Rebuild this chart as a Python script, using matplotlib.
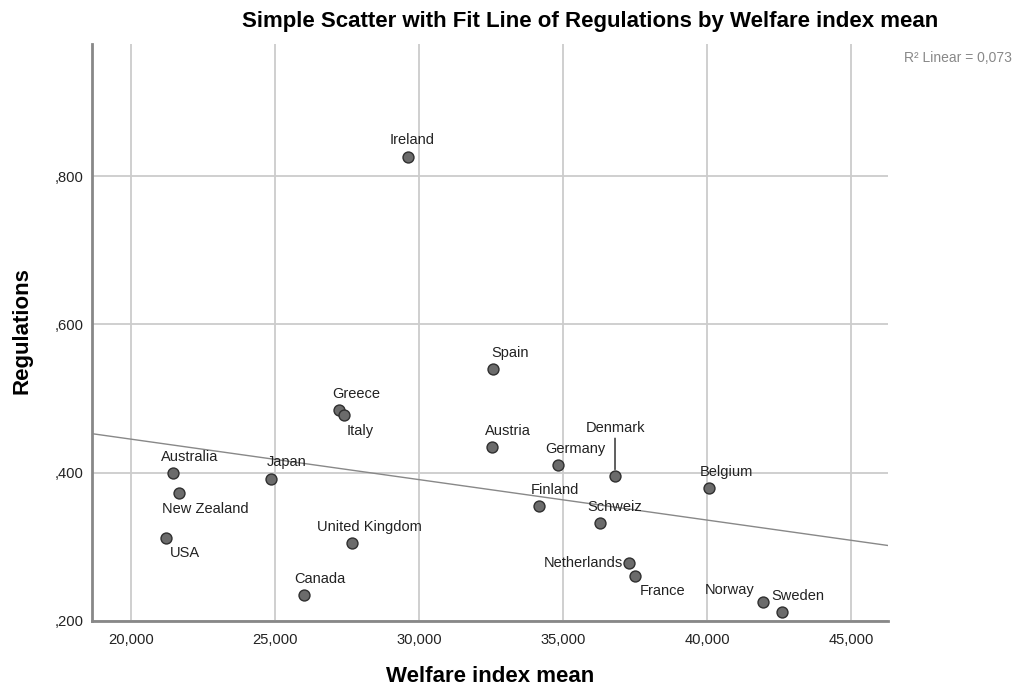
import numpy as np
import matplotlib
matplotlib.use("Agg")
import matplotlib.pyplot as plt

countries = ["Ireland", "Spain", "Greece", "Italy", "Austria", "Germany", "Denmark",
             "Belgium", "Finland", "Schweiz", "Netherlands", "France", "Norway", "Sweden",
             "Australia", "New Zealand", "USA", "Japan", "United Kingdom", "Canada"]
welfare = [29618, 32569, 27222, 27396, 32535, 34826, 36806,
           40069, 34167, 36285, 37292, 37500, 41944, 42604,
           21458, 21667, 21215, 24861, 27674, 26007]
regulations = [0.826, 0.540, 0.485, 0.478, 0.434, 0.411, 0.395,
               0.380, 0.355, 0.332, 0.278, 0.261, 0.226, 0.212,
               0.400, 0.373, 0.312, 0.391, 0.305, 0.235]

x_ticks = [20000, 25000, 30000, 35000, 40000, 45000]
x_ticklabels = ["20,000", "25,000", "30,000", "35,000", "40,000", "45,000"]
y_ticks = [0.2, 0.4, 0.6, 0.8]
y_ticklabels = [",200", ",400", ",600", ",800"]

# label offsets in pixels (dx, dy, ha)
offsets = {
    "Ireland": (4, 17, "center"), "Spain": (17, 16, "center"), "Greece": (17, 16, "center"),
    "Italy": (16, -16, "center"), "Austria": (16, 16, "center"), "Germany": (17, 16, "center"),
    "Denmark": (0, 48, "center"), "Belgium": (17, 16, "center"), "Finland": (16, 16, "center"),
    "Schweiz": (15, 16, "center"), "Netherlands": (-6, 0, "right"), "France": (28, -15, "center"),
    "Norway": (-33, 12, "center"), "Sweden": (16, 16, "center"), "Australia": (17, 16, "center"),
    "New Zealand": (26, -16, "center"), "USA": (19, -15, "center"), "Japan": (16, 17, "center"),
    "United Kingdom": (17, 16, "center"), "Canada": (16, 16, "center"),
}

plt.rcParams['font.family'] = ['Liberation Sans', 'DejaVu Sans']

fig = plt.figure(figsize=(10.14, 6.88), dpi=100)
ax = fig.add_axes([92/1014, 1 - 621/688, 796/1014, 577/688])

ax.set_xlim(18646, 46285)
ax.set_ylim(0.2, 0.978)

ax.set_xticks(x_ticks)
ax.set_xticklabels(x_ticklabels)
ax.set_yticks(y_ticks)
ax.set_yticklabels(y_ticklabels)
ax.tick_params(length=0, labelsize=10.6, labelcolor="#222222")
ax.tick_params(axis="y", pad=6)
ax.tick_params(axis="x", pad=9)
ax.grid(True, color="#cccccc", linewidth=1.3)
ax.set_axisbelow(True)
for s in ["top", "right"]:
    ax.spines[s].set_visible(False)
for s in ["left", "bottom"]:
    ax.spines[s].set_color("#888888")
    ax.spines[s].set_linewidth(2)

# fit line
slope, intercept = np.polyfit(welfare, regulations, 1)
xs = np.array(ax.get_xlim())
ax.plot(xs, intercept + slope * xs, color="#888888", linewidth=1, zorder=2)

ax.scatter(welfare, regulations, s=62, color="#6b6b6b", edgecolors="#2f2f2f",
           linewidths=1, zorder=3, clip_on=False)

for name, xv, yv in zip(countries, welfare, regulations):
    dx, dy, ha = offsets[name]
    ax.annotate(name, (xv, yv), xytext=(dx, dy), textcoords="offset pixels",
                ha=ha, va="center", fontsize=10.5, color="#222222", zorder=4)
    if name == "Denmark":
        ax.annotate("", (xv, yv), xytext=(0, 38), textcoords="offset pixels",
                    arrowprops=dict(arrowstyle="-", color="#444444", lw=1.2,
                                    shrinkA=0, shrinkB=5))

fig.text(590/1014, 1 - 22/688, "Simple Scatter with Fit Line of Regulations by Welfare index mean",
         ha="center", va="center", fontsize=16, fontweight="bold")
fig.text(1012/1014, 1 - 58/688, "R\u00b2 Linear = 0,073", ha="right", va="center",
         fontsize=10, color="#888888")
fig.text(490/1014, 1 - 676/688, "Welfare index mean", ha="center", va="center",
         fontsize=16, fontweight="bold")
fig.text(22/1014, 1 - 331/688, "Regulations", ha="center", va="center",
         rotation=90, fontsize=16, fontweight="bold")

fig.savefig("out.png", dpi=100)
